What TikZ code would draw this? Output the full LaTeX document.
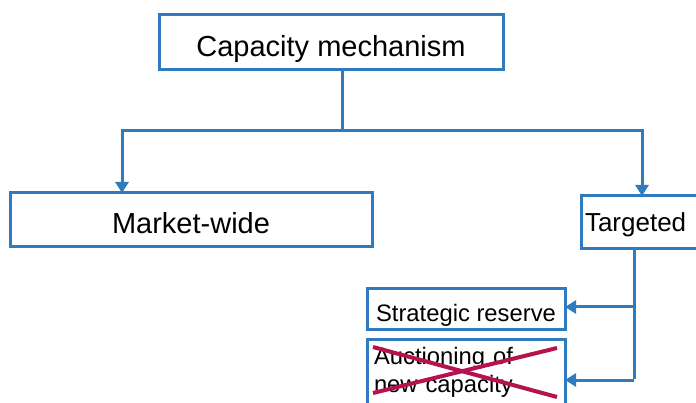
\documentclass[tikz,border=0pt]{standalone}
\usepackage{fontspec}
\setmainfont{Liberation Sans}
\usetikzlibrary{arrows.meta}
\definecolor{boxblue}{HTML}{2E7BBF}
\definecolor{crossred}{HTML}{B5124F}
\tikzset{
  box/.style={draw=boxblue, line width=3pt, fill=white, inner sep=0pt, outer sep=0pt},
  link/.style={draw=boxblue, line width=3pt},
  arr/.style={link, -{Triangle[width=13pt,length=11pt]}},
  cross/.style={draw=crossred, line width=4pt}
}
\begin{document}
\begin{tikzpicture}[x=1pt,y=-1pt]
\useasboundingbox (0,0) rectangle (696,403);
\clip (0,0) rectangle (696,403);

% boxes (text height/depth set the baseline inside each box)
\node[box, minimum width=344pt, minimum height=55pt, text height=30pt, text depth=1pt,
  font=\fontsize{29}{32}\selectfont]
  (top) at (331,42.5) {Capacity mechanism};
\node[box, minimum width=362pt, minimum height=54pt, text height=29.5pt, text depth=1.5pt,
  font=\fontsize{29}{32}\selectfont]
  (market) at (191,220) {Market-wide};
\node[box, anchor=north west, minimum width=130pt, minimum height=53pt,
  text height=21pt, text depth=2pt,
  text width=122pt, align=left, inner xsep=4pt, font=\fontsize{26}{29}\selectfont]
  (targeted) at (581,196) {Targeted};
\node[box, minimum width=198pt, minimum height=40pt, text height=26pt, text depth=0pt,
  font=\fontsize{23.8}{27}\selectfont]
  (strategic) at (466,309) {Strategic reserve};
\node[box, anchor=north west, minimum width=198pt, minimum height=66pt,
  text width=184pt, align=left, inner xsep=7pt, font=\fontsize{23.8}{28}\selectfont]
  (auction) at (367,339) {Auctioning of\\new capacity};

% crossing out the auction option
\draw[cross] ([shift={(6,8)}]auction.north west) -- ([shift={(-8,58)}]auction.north east);
\draw[cross] ([shift={(6,54)}]auction.north west) -- ([shift={(-8,9)}]auction.north east);

% connectors from the top box
\coordinate (stem) at (342,70);
\coordinate (jl) at (122,131);
\coordinate (jr) at (642,131);
\draw[link] (stem) -- (stem |- jl);
\draw[link] ([xshift=-1.5pt]jl) -- ([xshift=1.5pt]jr);
\draw[arr] (jl) -- (jl |- market.north);
\draw[arr] (jr) -- (jr |- targeted.north);

% connectors from the targeted box
\coordinate (tv) at (634,249);
\coordinate (b1) at (634,307);
\coordinate (b2) at (634,380);
\draw[link] (tv) -- ([yshift=1.5pt]b2);
\draw[arr] (b1) -- (b1 -| strategic.east);
\draw[arr] (b2) -- (b2 -| auction.east);
\end{tikzpicture}
\end{document}
